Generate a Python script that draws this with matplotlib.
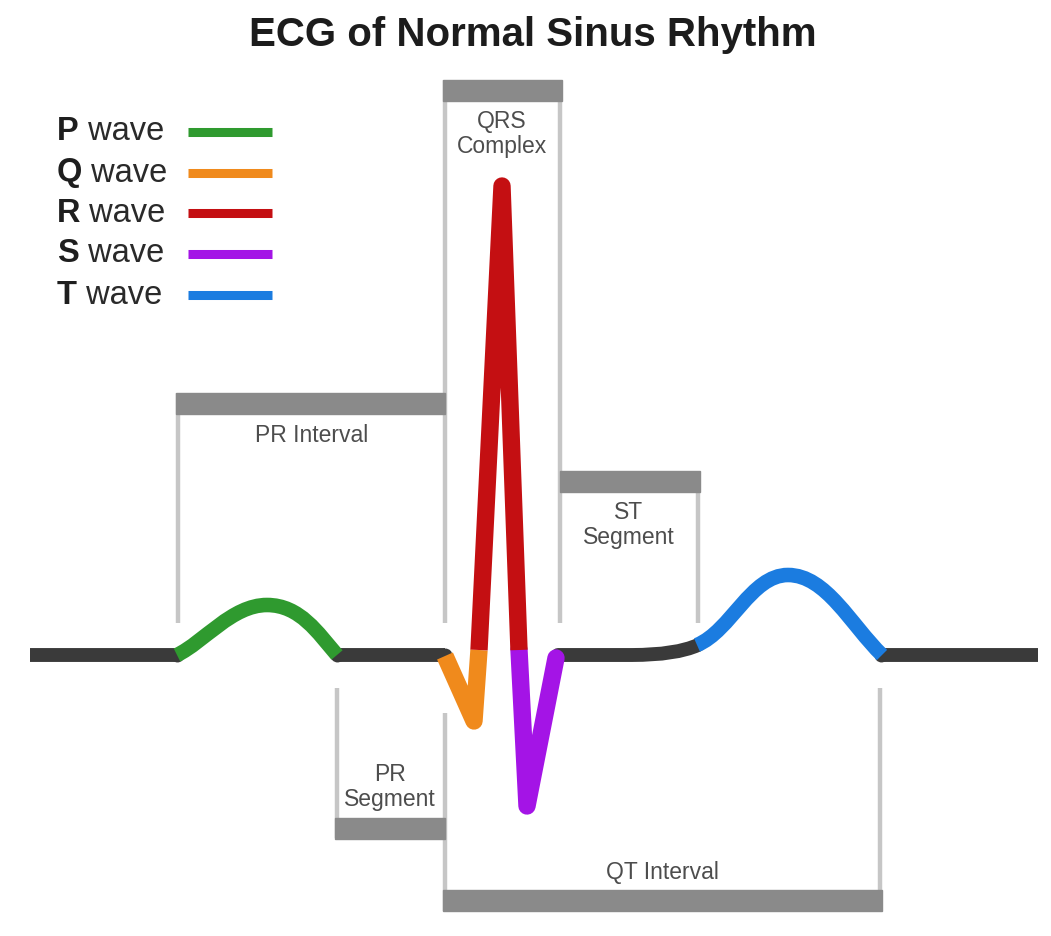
import matplotlib.pyplot as plt
from matplotlib.path import Path
from matplotlib.patches import PathPatch, Rectangle

plt.rcParams['font.family'] = ['Liberation Sans', 'DejaVu Sans']

# everything is in picture pixels, y grows downwards
base_y = 655

# flat pieces of the trace (dark grey)
flat_left = [30, 177]
flat_pr = [337, 445]
flat_right = [881, 1038]

# ST segment: flat, then a small rise into the T wave
st_pts = [(558, 655), (632, 655), (676, 655), (698, 645)]

# P and T waves as two cubic bezier halves each
p_pts = [(177, 655), (204, 642), (232, 605), (267, 605),
         (300, 605), (318, 633), (337, 655)]
t_pts = [(697, 645), (731, 631), (751, 575), (788, 575),
         (826, 575), (851, 625), (882, 655)]

# QRS complex corners
q_x = [445, 474, 479]
q_y = [656, 721, 650]
r_x = [479, 502, 519]
r_y = [650, 186, 650]
s_x = [519, 527, 556]
s_y = [650, 806, 658]

wave_names = ['P', 'Q', 'R', 'S', 'T']
wave_colors = ['#2f9a2f', '#f08a1c', '#c40f12', '#a414e6', '#1b7ce0']
legend_y = [132, 173, 213, 254, 295]

# brackets
bar_labels = ['PR Interval', 'QRS\nComplex', 'ST\nSegment', 'PR\nSegment', 'QT Interval']
bar_x0 = [176, 443, 560, 335, 443]
bar_x1 = [445, 562, 700, 445, 882]
bar_top = [393, 80, 471, 818, 890]
bar_h = 21
label_x = [312, 502, 629, 390, 662]
label_y = [435, 134, 525, 787, 873]

tick_x = [178, 445, 560, 698, 337, 445, 880]
tick_top = [393, 80, 80, 471, 688, 713, 688]
tick_bot = [623, 623, 623, 623, 838, 911, 911]

fig = plt.figure(figsize=(10.51, 9.36), dpi=100)
ax = fig.add_axes([0, 0, 1, 1])
ax.set_xlim(0, 1051)
ax.set_ylim(936, 0)
ax.axis('off')

# bracket lines and bars
for x, y0, y1 in zip(tick_x, tick_top, tick_bot):
    ax.plot([x, x], [y0, y1], color='#c6c6c6', lw=3.2, solid_capstyle='butt', zorder=1)
for x0, x1, y in zip(bar_x0, bar_x1, bar_top):
    ax.add_patch(Rectangle((x0, y), x1 - x0, bar_h, color='#8a8a8a', zorder=2))
for lab, x, y in zip(bar_labels, label_x, label_y):
    ax.text(x, y, lab, ha='center', va='center', fontsize=16.5, color='#4d4d4d',
            linespacing=1.15, zorder=3)

dark = '#3a3a3a'
for seg in [flat_left, flat_pr, flat_right]:
    ax.plot(seg, [base_y, base_y], color=dark, lw=10, solid_capstyle='butt', zorder=4)
# rounded joints where the flat runs meet the waves
joints = [flat_left[1], flat_pr[0], flat_pr[1], flat_right[0]]
ax.plot(joints, [base_y] * len(joints), 'o', ms=10, mew=0, color=dark, zorder=4)

C3, C4 = Path.CURVE3, Path.CURVE4
st_path = Path(st_pts, [Path.MOVETO, Path.LINETO, C3, C3])
ax.add_patch(PathPatch(st_path, fill=False, ec=dark, lw=10, capstyle='round', zorder=4))

wave_codes = [Path.MOVETO, C4, C4, C4, C4, C4, C4]
ax.add_patch(PathPatch(Path(p_pts, wave_codes), fill=False, ec=wave_colors[0],
                       lw=10.5, capstyle='butt', zorder=5))
ax.add_patch(PathPatch(Path(t_pts, wave_codes), fill=False, ec=wave_colors[4],
                       lw=10.5, capstyle='butt', zorder=5))

ax.plot(q_x, q_y, color=wave_colors[1], lw=12.5, solid_joinstyle='round',
        solid_capstyle='butt', zorder=5)
ax.plot(r_x, r_y, color=wave_colors[2], lw=12.5, solid_joinstyle='round',
        solid_capstyle='butt', zorder=6)
ax.plot(s_x, s_y, color=wave_colors[3], lw=12.5, solid_joinstyle='round',
        solid_capstyle='round', zorder=5)

# legend
for name, col, y in zip(wave_names, wave_colors, legend_y):
    t = ax.text(57, y, name, fontsize=23.5, fontweight='bold', color='#1e1e1e',
                ha='left', va='center')
    ax.annotate(' wave', xy=(1, 0.5), xycoords=t, fontsize=23.5, color='#2a2a2a',
                ha='left', va='center')
    ax.plot([188, 272], [y, y], color=col, lw=6.5, solid_capstyle='butt')

ax.text(533, 35, 'ECG of Normal Sinus Rhythm', ha='center', va='center',
        fontsize=29, fontweight='bold', color='#1c1c1c')

fig.savefig('out.png', dpi=100)
